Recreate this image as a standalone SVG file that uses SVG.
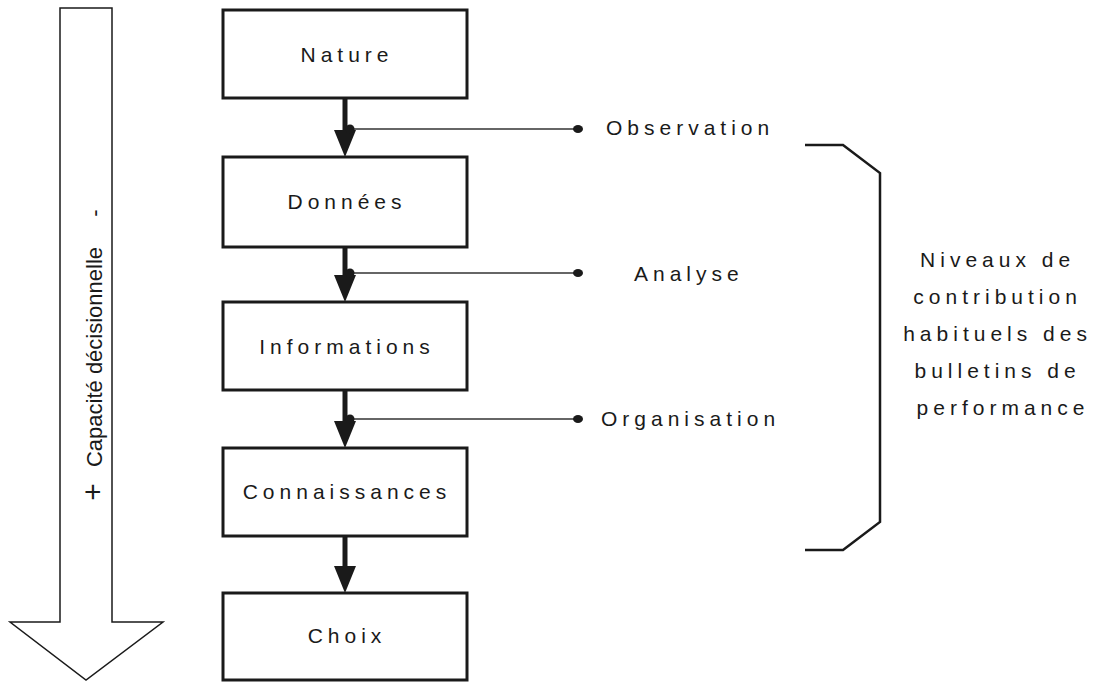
<svg xmlns="http://www.w3.org/2000/svg" width="1103" height="683" viewBox="0 0 1103 683">
<style>
.box{fill:#fff;stroke:#1a1a1a;stroke-width:3}
.lbl{font-family:"Liberation Sans",Arial,sans-serif;font-size:21px;letter-spacing:5px;fill:#1a1a1a}
.side{font-family:"Liberation Sans",Arial,sans-serif;font-size:22px;fill:#1a1a1a}
.big{font-size:30px}
.shaft{stroke:#1a1a1a;stroke-width:5}
.head{fill:#1a1a1a}
.tap{stroke:#333;stroke-width:1.5}
.dot{fill:#1a1a1a}
</style>
<rect width="1103" height="683" fill="#fff"/>
<g id="capacite">
<polygon points="60,8 112,8 112,622 163,622 86,680 10,622 60,622" fill="#fff" stroke="#1a1a1a" stroke-width="1.5"/>
<text class="side big" transform="translate(103,492) rotate(-90)" text-anchor="middle">+</text>
<text class="side" transform="translate(102,357) rotate(-90)" text-anchor="middle">Capacité décisionnelle</text>
<text class="side" transform="translate(102,213) rotate(-90)" text-anchor="middle">-</text>
</g>
<g id="connectors">
<line class="shaft" x1="345" y1="98" x2="345" y2="132"/>
<polygon class="head" points="334,130 356,130 345,157"/>
<line class="shaft" x1="345" y1="247" x2="345" y2="277"/>
<polygon class="head" points="334,275 356,275 345,302"/>
<line class="shaft" x1="345" y1="390" x2="345" y2="423"/>
<polygon class="head" points="334,421 356,421 345,448"/>
<line class="shaft" x1="345" y1="536" x2="345" y2="568"/>
<polygon class="head" points="334,566 356,566 345,593"/>
<line class="tap" x1="350" y1="129" x2="578" y2="129"/>
<circle class="dot" cx="350" cy="129" r="4.5"/>
<ellipse class="dot" cx="578" cy="129" rx="5" ry="4"/>
<line class="tap" x1="350" y1="273" x2="578" y2="273"/>
<circle class="dot" cx="350" cy="273" r="4.5"/>
<ellipse class="dot" cx="578" cy="273" rx="5" ry="4"/>
<line class="tap" x1="350" y1="419" x2="578" y2="419"/>
<circle class="dot" cx="350" cy="419" r="4.5"/>
<ellipse class="dot" cx="578" cy="419" rx="5" ry="4"/>
</g>
<g id="nature"><rect class="box" x="223" y="10" width="244" height="88"/><text class="lbl" x="347" y="62" text-anchor="middle">Nature</text></g>
<g id="donnees"><rect class="box" x="223" y="157" width="244" height="90"/><text class="lbl" x="347" y="209" text-anchor="middle">Données</text></g>
<g id="informations"><rect class="box" x="223" y="302" width="244" height="88"/><text class="lbl" x="347" y="354" text-anchor="middle">Informations</text></g>
<g id="connaissances"><rect class="box" x="223" y="448" width="244" height="88"/><text class="lbl" x="347" y="499" text-anchor="middle">Connaissances</text></g>
<g id="choix"><rect class="box" x="223" y="593" width="244" height="87"/><text class="lbl" x="347" y="643" text-anchor="middle">Choix</text></g>
<g id="observation"><text class="lbl" x="606" y="135">Observation</text></g>
<g id="analyse"><text class="lbl" x="634" y="281">Analyse</text></g>
<g id="organisation"><text class="lbl" x="601" y="426">Organisation</text></g>
<g id="niveaux">
<path d="M805,145 L843,145 L880,173 L880,522 L843,550 L805,550" fill="none" stroke="#1a1a1a" stroke-width="2.5"/>
<text class="lbl" text-anchor="middle">
<tspan x="1003" y="267">Niveaux de</tspan>
<tspan x="1003" y="304">contribution</tspan>
<tspan x="1003" y="341">habituels des</tspan>
<tspan x="1003" y="378">bulletins de</tspan>
<tspan x="1003" y="415">performance</tspan>
</text>
</g>
</svg>
